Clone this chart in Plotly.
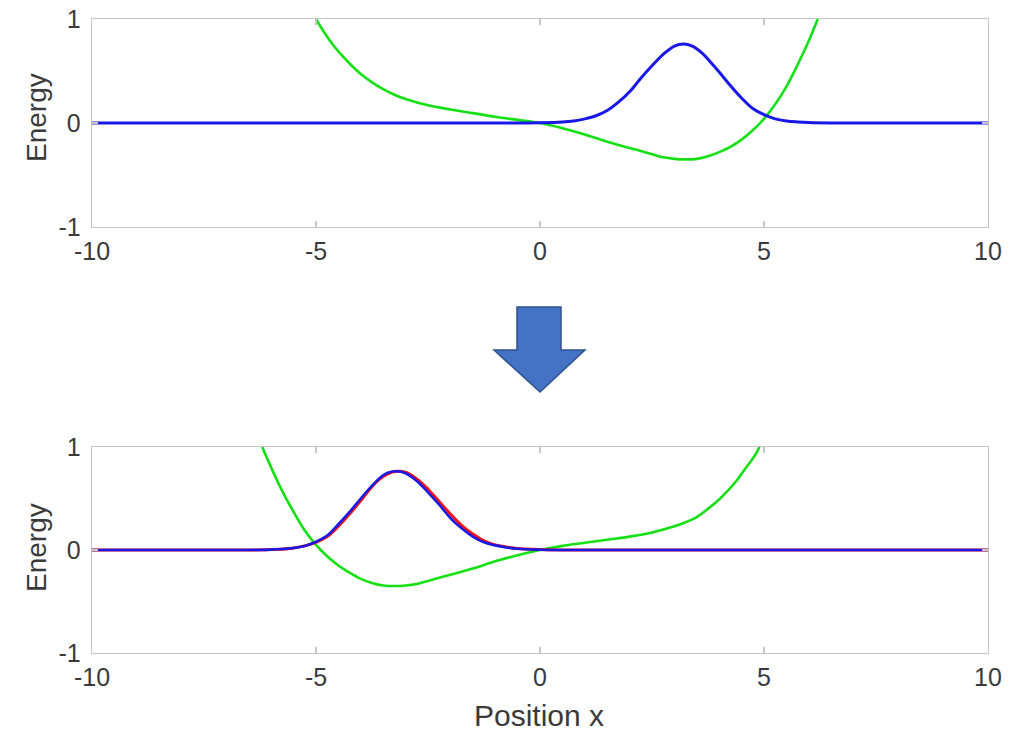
import plotly.graph_objects as go

# ---------------- data ----------------
# top panel: potential (green) and wave packet (blue)
top_pot_x = [-5.0, -4.8, -4.6, -4.4, -4.2, -4.0, -3.75, -3.5, -3.25, -3.0, -2.5, -2.0, -1.5, -1.0, -0.5, 0.0,
             0.5, 1.0, 1.5, 2.0, 2.5, 2.75, 3.0, 3.25, 3.5, 3.75, 4.0, 4.25, 4.5, 4.75, 5.0, 5.25, 5.5, 5.75, 6.0, 6.2]
top_pot_y = [1.0, 0.86, 0.74, 0.64, 0.55, 0.47, 0.39, 0.325, 0.272, 0.23, 0.17, 0.13, 0.095, 0.06, 0.03, 0.0,
             -0.05, -0.11, -0.18, -0.24, -0.30, -0.33, -0.345, -0.35, -0.345, -0.32, -0.28, -0.23, -0.16, -0.07, 0.04, 0.18, 0.35, 0.56, 0.79, 1.0]

top_wave_x = [-10.0, -5.0, -1.0, 0.0, 0.5, 0.75, 1.0, 1.25, 1.5, 1.75, 2.0, 2.25, 2.5, 2.75, 3.0, 3.2, 3.4, 3.6,
              3.8, 4.0, 4.25, 4.5, 4.75, 5.0, 5.25, 5.5, 5.75, 6.0, 6.5, 8.0, 10.0]
top_wave_y = [0.0, 0.0, 0.0, 0.003, 0.01, 0.02, 0.04, 0.07, 0.12, 0.20, 0.30, 0.43, 0.55, 0.66, 0.74, 0.76, 0.74, 0.68,
              0.59, 0.49, 0.36, 0.24, 0.14, 0.08, 0.04, 0.02, 0.01, 0.004, 0.0, 0.0, 0.0]

# bottom panel: potential (green), initial packet (red) and final packet (blue)
bot_pot_x = [-6.2, -6.0, -5.75, -5.5, -5.25, -5.0, -4.75, -4.5, -4.25, -4.0, -3.75, -3.5, -3.25, -3.0, -2.75, -2.5,
             -2.0, -1.5, -1.0, -0.5, 0.0, 0.5, 1.0, 1.5, 2.0, 2.5, 3.0, 3.25, 3.5, 3.75, 4.0, 4.2, 4.4, 4.6, 4.8, 4.9]
bot_pot_y = [1.0, 0.80, 0.57, 0.37, 0.19, 0.05, -0.06, -0.15, -0.22, -0.28, -0.32, -0.345, -0.35, -0.345, -0.33, -0.30,
             -0.24, -0.18, -0.11, -0.05, 0.0, 0.04, 0.07, 0.10, 0.13, 0.17, 0.23, 0.27, 0.32, 0.40, 0.49, 0.58, 0.68, 0.80, 0.92, 1.0]

bot_red_x = [-10.0, -8.0, -6.5, -6.0, -5.5, -5.0, -4.75, -4.5, -4.25, -4.0, -3.8, -3.6, -3.4, -3.2, -3.0, -2.75,
             -2.5, -2.25, -2.0, -1.75, -1.5, -1.25, -1.0, -0.75, -0.5, 0.0, 0.5, 1.0, 5.0, 10.0]
bot_red_y = [0.0, 0.0, 0.0, 0.004, 0.02, 0.075, 0.13, 0.23, 0.35, 0.48, 0.59, 0.68, 0.74, 0.765, 0.755, 0.69,
             0.59, 0.47, 0.35, 0.24, 0.155, 0.09, 0.05, 0.03, 0.015, 0.004, 0.0, 0.0, 0.0, 0.0]

bot_blue_x = [-10.0, -8.0, -6.5, -6.0, -5.75, -5.5, -5.25, -5.0, -4.75, -4.5, -4.25, -4.0, -3.8, -3.6, -3.4, -3.2,
              -3.0, -2.75, -2.5, -2.25, -2.0, -1.75, -1.5, -1.25, -1.0, -0.75, -0.5, 0.0, 0.5, 1.0, 5.0, 10.0]
bot_blue_y = [0.0, 0.0, 0.0, 0.004, 0.01, 0.02, 0.04, 0.08, 0.14, 0.25, 0.37, 0.50, 0.60, 0.69, 0.75, 0.765,
              0.745, 0.67, 0.56, 0.44, 0.31, 0.21, 0.13, 0.075, 0.045, 0.025, 0.012, 0.003, 0.0, 0.0, 0.0, 0.0]

x_ticks = [-10, -5, 0, 5, 10]
x_tick_text = ["-10", "-5", "0", "5", "10"]
y_ticks = [-1, 0, 1]
y_tick_text = ["-1", "0", "1"]
y_label = "Energy"
x_label = "Position x"

# ---------------- styling ----------------
W, H = 1025, 731
GREEN = "#14e014"
BLUE = "#1818e8"
RED = "#ff1010"
BOX = "#c4c4c4"
TXT = "#3a3a3a"
FONT = "Liberation Sans, Arial, sans-serif"


def px(x):
    return x / W


def py(y):
    return 1 - y / H


fig = go.Figure()

line_kw = dict(mode="lines", line_shape="spline", hoverinfo="skip", showlegend=False)
fig.add_trace(go.Scatter(x=top_pot_x, y=top_pot_y, line=dict(color=GREEN, width=2.6, smoothing=1.0), xaxis="x", yaxis="y", **line_kw))
fig.add_trace(go.Scatter(x=top_wave_x, y=top_wave_y, line=dict(color=BLUE, width=3, smoothing=1.0), xaxis="x", yaxis="y", **line_kw))
fig.add_trace(go.Scatter(x=bot_pot_x, y=bot_pot_y, line=dict(color=GREEN, width=2.6, smoothing=1.0), xaxis="x2", yaxis="y2", **line_kw))
fig.add_trace(go.Scatter(x=bot_red_x, y=bot_red_y, line=dict(color=RED, width=3, smoothing=1.0), xaxis="x2", yaxis="y2", **line_kw))
fig.add_trace(go.Scatter(x=bot_blue_x, y=bot_blue_y, line=dict(color=BLUE, width=2.6, smoothing=1.0), xaxis="x2", yaxis="y2", **line_kw))

xdom = [px(92), px(988)]
top_dom = [py(227), py(19)]
bot_dom = [py(653), py(447)]

ax_common = dict(showline=True, mirror="ticks", linecolor=BOX, linewidth=1.3,
                 ticks="inside", ticklen=6, tickcolor=BOX, tickwidth=1.3,
                 showgrid=False, zeroline=False, automargin=False,
                 ticklabeloverflow="allow",
                 tickfont=dict(family=FONT, size=25, color=TXT))

fig.update_layout(
    width=W, height=H,
    margin=dict(l=0, r=0, t=0, b=0, autoexpand=False),
    paper_bgcolor="white", plot_bgcolor="white",
    xaxis=dict(domain=xdom, range=[-10, 10], tickvals=x_ticks, ticktext=x_tick_text, anchor="y",
               ticklabelstandoff=2, **ax_common),
    yaxis=dict(domain=top_dom, range=[-1, 1], tickvals=y_ticks, ticktext=y_tick_text, anchor="x",
               ticklabelstandoff=5, **ax_common),
    xaxis2=dict(domain=xdom, range=[-10, 10], tickvals=x_ticks, ticktext=x_tick_text, anchor="y2",
                ticklabelstandoff=2, **ax_common),
    yaxis2=dict(domain=bot_dom, range=[-1, 1], tickvals=y_ticks, ticktext=y_tick_text, anchor="x2",
                ticklabelstandoff=5, **ax_common),
)

# axis titles
fig.add_annotation(x=px(36), y=py(118), xref="paper", yref="paper", text=y_label, textangle=-90,
                   showarrow=False, font=dict(family=FONT, size=28, color=TXT), xanchor="center", yanchor="middle")
fig.add_annotation(x=px(36), y=py(548), xref="paper", yref="paper", text=y_label, textangle=-90,
                   showarrow=False, font=dict(family=FONT, size=28, color=TXT), xanchor="center", yanchor="middle")
fig.add_annotation(x=px(539), y=py(715), xref="paper", yref="paper", text=x_label,
                   showarrow=False, font=dict(family=FONT, size=30, color=TXT), xanchor="center", yanchor="middle")

# block arrow between panels
arrow_pts = [(517, 307), (561, 307), (561, 350), (585, 350), (540, 392), (494, 350), (517, 350)]
path = "M " + " L ".join(f"{px(a):.5f},{py(b):.5f}" for a, b in arrow_pts) + " Z"
fig.add_shape(type="path", path=path, xref="paper", yref="paper",
              fillcolor="#4472c4", line=dict(color="#2f528f", width=1.5))

# place the figure flush with the window's corner, no mode bar
fig.write_html("out.html",
               config={"displayModeBar": False, "staticPlot": True},
               post_script="document.body.style.margin='0';document.body.style.overflow='hidden';")
